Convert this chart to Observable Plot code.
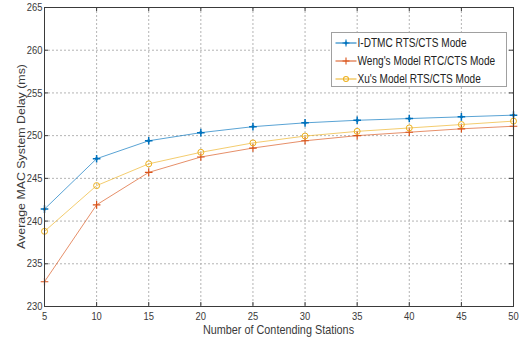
<!DOCTYPE html>
<html>
<head>
<meta charset="utf-8">
<script src="https://cdn.jsdelivr.net/npm/d3@7"></script>
<script src="https://cdn.jsdelivr.net/npm/@observablehq/plot@0.6"></script>
<style>
  html, body { margin: 0; padding: 0; background: #fff; }
  #chart { width: 522px; height: 340px; }
</style>
</head>
<body>
<div id="chart"></div>
<script>
const stations = [5, 10, 15, 20, 25, 30, 35, 40, 45, 50];
const idtmc = [241.4, 247.3, 249.4, 250.35, 251.05, 251.5, 251.8, 252.0, 252.2, 252.4];
const weng  = [232.9, 241.9, 245.7, 247.5, 248.55, 249.4, 250.0, 250.4, 250.8, 251.1];
const xu    = [238.8, 244.15, 246.7, 248.05, 249.15, 249.95, 250.5, 250.9, 251.3, 251.7];

const seriesNames = ["I-DTMC RTS/CTS Mode", "Weng's Model RTC/CTS Mode", "Xu's Model RTS/CTS Mode"];
const seriesColors = ["#0072BD", "#D95319", "#EDB120"];
const xTicks = [5, 10, 15, 20, 25, 30, 35, 40, 45, 50];
const yTicks = [230, 235, 240, 245, 250, 255, 260, 265];
const xLabel = "Number of Contending Stations";
const yLabel = "Average MAC System Delay (ms)";

const rows = [];
[idtmc, weng, xu].forEach((vals, i) => {
  vals.forEach((v, j) => rows.push({series: seriesNames[i], x: stations[j], y: v}));
});

const plusSym = {draw(ctx, size) {
  const r = Math.sqrt(size / Math.PI);
  ctx.moveTo(-r, 0); ctx.lineTo(r, 0);
  ctx.moveTo(0, -r); ctx.lineTo(0, r);
}};
const starSym = {draw(ctx, size) {
  const r = Math.sqrt(size / Math.PI);
  const d = r * 0.3;
  ctx.moveTo(-r, 0); ctx.lineTo(r, 0);
  ctx.moveTo(0, -r); ctx.lineTo(0, r);
  ctx.moveTo(-d, -d); ctx.lineTo(d, d);
  ctx.moveTo(-d, d); ctx.lineTo(d, -d);
}};
const circSym = {draw(ctx, size) {
  const r = Math.sqrt(size / Math.PI);
  ctx.moveTo(r, 0); ctx.arc(0, 0, r, 0, 2 * Math.PI);
}};

const W = 522, H = 340, mT = 7, mB = 34, mL = 44, mR = 9;
const innerH = H - mT - mB;
const axisColor = "#3a3a3a";
const textColor = "#3a3a3a";
const font = "'Liberation Sans', Arial, sans-serif";
const SX = 0.84; // horizontal squeeze of text, as in the reference

const chart = Plot.plot({
  width: W, height: H,
  marginTop: mT, marginBottom: mB, marginLeft: mL, marginRight: mR,
  style: {fontFamily: font, fontSize: "11px", background: "#fff", color: textColor},
  x: {domain: [5, 50]},
  y: {domain: [230, 265]},
  color: {domain: seriesNames, range: seriesColors},
  marks: [
    Plot.gridX(xTicks, {stroke: "#b4b4b4", strokeOpacity: 1, strokeDasharray: "2,2"}),
    Plot.gridY(yTicks, {stroke: "#b4b4b4", strokeOpacity: 1, strokeDasharray: "2,2"}),
    Plot.axisX(xTicks, {tickSize: 0, tickPadding: 6, fontSize: 11.2, fill: textColor, label: null}),
    Plot.axisY(yTicks, {tickSize: 0, tickPadding: 2, fontSize: 11.2, fill: textColor, label: null}),
    Plot.tickX(xTicks, {x: d => d, insetTop: innerH - 4, stroke: axisColor}),
    Plot.tickX(xTicks, {x: d => d, insetBottom: innerH - 4, stroke: axisColor}),
    Plot.tickY(yTicks, {y: d => d, insetRight: (W - mL - mR) - 4, stroke: axisColor}),
    Plot.tickY(yTicks, {y: d => d, insetLeft: (W - mL - mR) - 4, stroke: axisColor}),
    Plot.line(rows, {x: "x", y: "y", z: "series", stroke: "series", strokeWidth: 1, strokeOpacity: 0.65}),
    Plot.dot(rows.filter(d => d.series === seriesNames[0]), {x: "x", y: "y", stroke: seriesColors[0], fill: "none", symbol: starSym, r: 3.8, strokeWidth: 1.5}),
    Plot.dot(rows.filter(d => d.series === seriesNames[1]), {x: "x", y: "y", stroke: seriesColors[1], fill: "none", symbol: plusSym, r: 3.8, strokeWidth: 1.2}),
    Plot.dot(rows.filter(d => d.series === seriesNames[2]), {x: "x", y: "y", stroke: seriesColors[2], fill: "none", symbol: circSym, r: 3, strokeWidth: 1}),
    Plot.frame({stroke: axisColor})
  ]
});

const svg = d3.select(chart);
// squeeze Plot's tick labels horizontally around their anchors
svg.selectAll("text").each(function() {
  const t = this.getAttribute("transform");
  if (t) this.setAttribute("transform", t + ` scale(${SX},1)`);
});

// Axis titles
svg.append("text").attr("transform", `translate(${(mL + W - mR) / 2},334) scale(${SX},1)`)
  .attr("text-anchor", "middle").attr("font-family", font).attr("font-size", 12.9)
  .attr("fill", textColor).text(xLabel);
svg.append("text").attr("transform", `translate(24.5,${mT + innerH / 2}) scale(${SX},1) rotate(-90)`)
  .attr("text-anchor", "middle").attr("font-family", font).attr("font-size", 12.4)
  .attr("fill", textColor).text(yLabel);

// Legend inside the plot (top-right)
const lg = svg.append("g").attr("transform", "translate(331.5,32.5)");
lg.append("rect").attr("width", 175).attr("height", 54).attr("fill", "#fff").attr("stroke", "#a0a0a0").attr("stroke-width", 1);
const symbols = [starSym, plusSym, circSym];
const sizes = [3.5, 3.5, 2.5];
seriesNames.forEach((name, i) => {
  const yy = 10.5 + i * 18;
  const g = lg.append("g").attr("transform", `translate(0,${yy})`);
  g.append("line").attr("x1", 4).attr("x2", 25).attr("y1", 0).attr("y2", 0).attr("stroke", seriesColors[i]).attr("stroke-width", 1);
  g.append("path").attr("transform", "translate(14.5,0)")
    .attr("d", d3.symbol(symbols[i], sizes[i] * sizes[i] * Math.PI)())
    .attr("fill", "none").attr("stroke", seriesColors[i]).attr("stroke-width", 1.1);
  g.append("text").attr("transform", `translate(26,0) scale(${SX},1)`).attr("dy", "0.36em")
    .attr("text-anchor", "start")
    .attr("font-size", 12).attr("fill", "#222").attr("font-family", font)
    .text(name);
});

document.getElementById("chart").appendChild(chart);
</script>
</body>
</html>
